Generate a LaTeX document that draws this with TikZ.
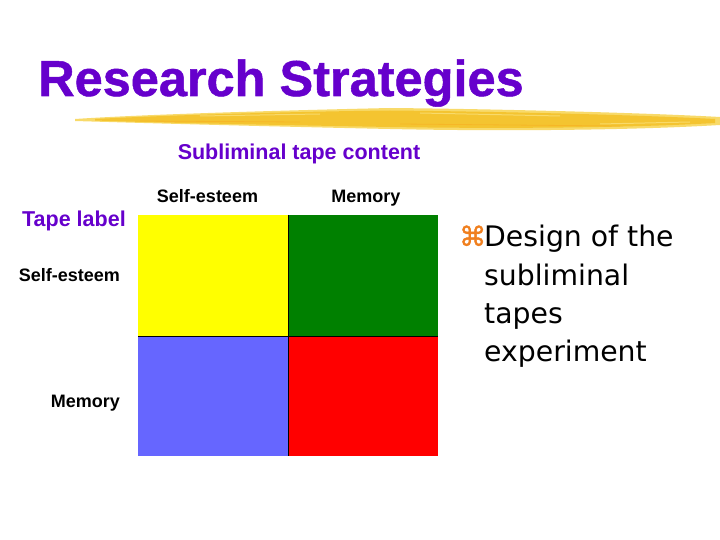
\documentclass[tikz,border=0pt]{standalone}
\usepackage{fontspec}
\setmainfont{Liberation Sans}
\newfontfamily\bodyfont{DejaVu Sans}
\newfontfamily\heavyfont{Liberation Sans Bold}[FakeBold=1]
\newfontfamily\bulfont{DejaVu Sans}[FakeBold=1.5]
\usetikzlibrary{positioning}
\definecolor{titlec}{HTML}{6600CC}
\definecolor{brushc}{HTML}{F4C430}
\definecolor{brushl}{HTML}{F8DA6A}
\definecolor{cyel}{HTML}{FFFF00}
\definecolor{cgrn}{HTML}{008000}
\definecolor{cblu}{HTML}{6666FF}
\definecolor{cred}{HTML}{FF0000}
\definecolor{bulc}{HTML}{F07F1E}
\tikzset{
  cell/.style={inner sep=0pt,minimum width=150pt,minimum height=120.5pt,anchor=north west},
  hdr/.style={font=\bfseries\fontsize{21.5}{24}\selectfont,text=titlec,inner sep=0pt},
  lab/.style={font=\bfseries\fontsize{18}{20}\selectfont,inner sep=0pt},
  bodytxt/.style={font=\bodyfont\fontsize{28.3}{33}\selectfont,inner sep=0pt,anchor=base west}
}
\begin{document}
\begin{tikzpicture}[x=1pt,y=-1pt]
\useasboundingbox (0,0) rectangle (720,540);
% title and brush stroke
\node[font=\heavyfont\fontsize{50.5}{56}\selectfont,text=titlec,inner sep=0pt,anchor=base west] (title) at (38,96) {Research Strategies};
\fill[brushl] (75,119) .. controls (150,114) and (300,110) .. (390,108)
  .. controls (500,109) and (650,113) .. (720,117) -- (720,125)
  .. controls (620,131) and (480,131) .. (390,129)
  .. controls (250,126) and (140,123) .. (75,121) -- cycle;
\fill[brushc] (95,119) .. controls (170,115) and (300,111.5) .. (390,110.5)
  .. controls (500,111.5) and (640,115) .. (715,119) -- (715,123)
  .. controls (620,128.5) and (480,128.5) .. (390,127)
  .. controls (250,124.5) and (150,122.5) .. (95,120.5) -- cycle;
\draw[brushl,line width=1pt] (200,116) -- (320,114) (420,113) -- (560,116) (600,124) -- (690,122);
\draw[brushc!80!orange,line width=0.8pt] (140,121) -- (300,122) (400,124) -- (620,126);
% 2x2 grid
\node[cell,fill=cyel] (yel) at (138,215) {};
\node[cell,fill=cgrn] (grn) at (288,215) {};
\node[cell,fill=cblu] (blu) at (138,335.5) {};
\node[cell,fill=cred] (red) at (288,335.5) {};
\draw[black,line width=0.8pt] (yel.south west) -- (grn.south east);
\draw[black,line width=0.8pt] (yel.north east) -- (blu.south east);
% headings
\node[hdr,anchor=base] (content) at (299,160) {Subliminal tape content};
\node[lab,anchor=base] (colse) at (207.5,203) {Self-esteem};
\node[lab,anchor=base] (colmem) at (366,203) {Memory};
\node[hdr,anchor=base west] (tape) at (22,226) {Tape label};
\node[lab,anchor=base east] (rowse) at (120,281) {Self-esteem};
\node[lab,anchor=base east] (rowmem) at (120,407) {Memory};
% bullet text
\node[font=\bulfont\fontsize{27}{30}\selectfont,text=bulc,inner sep=0pt,anchor=base west] (bul) at (459,246) {⌘};
\foreach \t [count=\i] in {Design of the,subliminal,tapes,experiment}
  \node[bodytxt] (line\i) at (484,{247+38*(\i-1)}) {\t};
\end{tikzpicture}
\end{document}
